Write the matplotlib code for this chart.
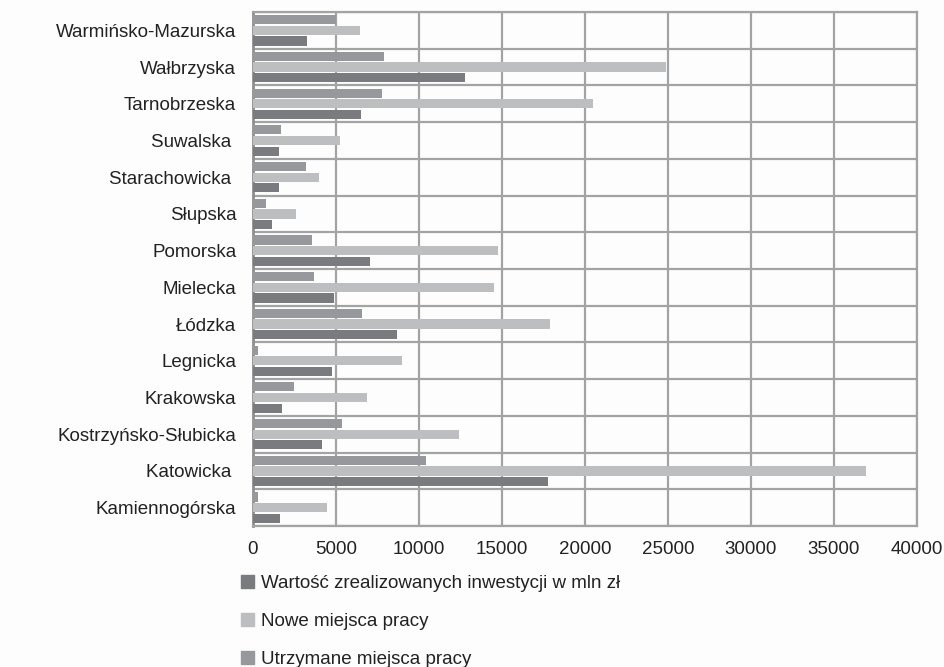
import matplotlib
matplotlib.use("Agg")
import matplotlib.pyplot as plt
from matplotlib.patches import Patch
from matplotlib.ticker import FixedLocator
import numpy as np

plt.rcParams['font.family'] = ['Liberation Sans', 'DejaVu Sans']

# bottom to top
regions = ["Kamiennogórska", "Katowicka ", "Kostrzyńsko-Słubicka", "Krakowska",
           "Legnicka", "Łódzka", "Mielecka", "Pomorska", "Słupska",
           "Starachowicka ", "Suwalska ", "Tarnobrzeska", "Wałbrzyska",
           "Warmińsko-Mazurska"]
inwestycje = [1600, 17800, 4150, 1750, 4750, 8650, 4900, 7050, 1150,
              1550, 1550, 6500, 12800, 3250]
nowe = [4450, 36900, 12400, 6850, 9000, 17900, 14500, 14750, 2600,
        4000, 5250, 20500, 24900, 6450]
utrzymane = [300, 10400, 5350, 2450, 300, 6550, 3650, 3550, 800,
             3200, 1700, 7800, 7900, 5000]
series_names = ["Wartość zrealizowanych inwestycji w mln zł",
                "Nowe miejsca pracy", "Utrzymane miejsca pracy"]
colors = ["#7a7b7f", "#bdbebf", "#97989c"]

y = np.arange(len(regions))
h = 0.25
off = 0.29
fs = 13.5

fig = plt.figure(figsize=(9.44, 6.67), dpi=100, facecolor="#fdfdfd")
ax = fig.add_axes([0.268, 0.2114, 0.7034, 0.7706])
ax.set_facecolor("#fdfdfd")

ax.barh(y - off, inwestycje, height=h, color=colors[0], zorder=3)
ax.barh(y, nowe, height=h, color=colors[1], zorder=3)
ax.barh(y + off, utrzymane, height=h, color=colors[2], zorder=3)

ax.set_xlim(0, 40000)
ax.set_ylim(-0.5, len(regions) - 0.5)
ax.set_xticks(np.arange(0, 40001, 5000))
ax.set_yticks(y)
ax.set_yticklabels(regions)
ax.yaxis.set_minor_locator(FixedLocator(np.arange(-0.5, len(regions), 1)))
ax.grid(True, axis="x", which="major", color="#a3a3a3", lw=1.6, zorder=1)
ax.grid(True, axis="y", which="minor", color="#a3a3a3", lw=1.6, zorder=1)
ax.tick_params(which="both", length=0, labelsize=fs, colors="#222222")
ax.tick_params(axis="x", pad=11)
ax.tick_params(axis="y", pad=12)
for s in ax.spines.values():
    s.set_color("#a3a3a3")
    s.set_linewidth(1.6)
ax.spines["left"].set_color("#8f8f8f")
ax.spines["left"].set_linewidth(2.0)

handles = [Patch(color=c, label=n) for c, n in zip(colors, series_names)]
leg = fig.legend(handles=handles, loc="upper left", bbox_to_anchor=(0.2553, 0.138),
                 frameon=False, fontsize=fs, handlelength=0.68, handleheight=0.68,
                 handletextpad=0.39, labelspacing=1.12, borderaxespad=0, borderpad=0)
for t in leg.get_texts():
    t.set_color("#222222")

fig.savefig("out.png", dpi=100, facecolor=fig.get_facecolor())
